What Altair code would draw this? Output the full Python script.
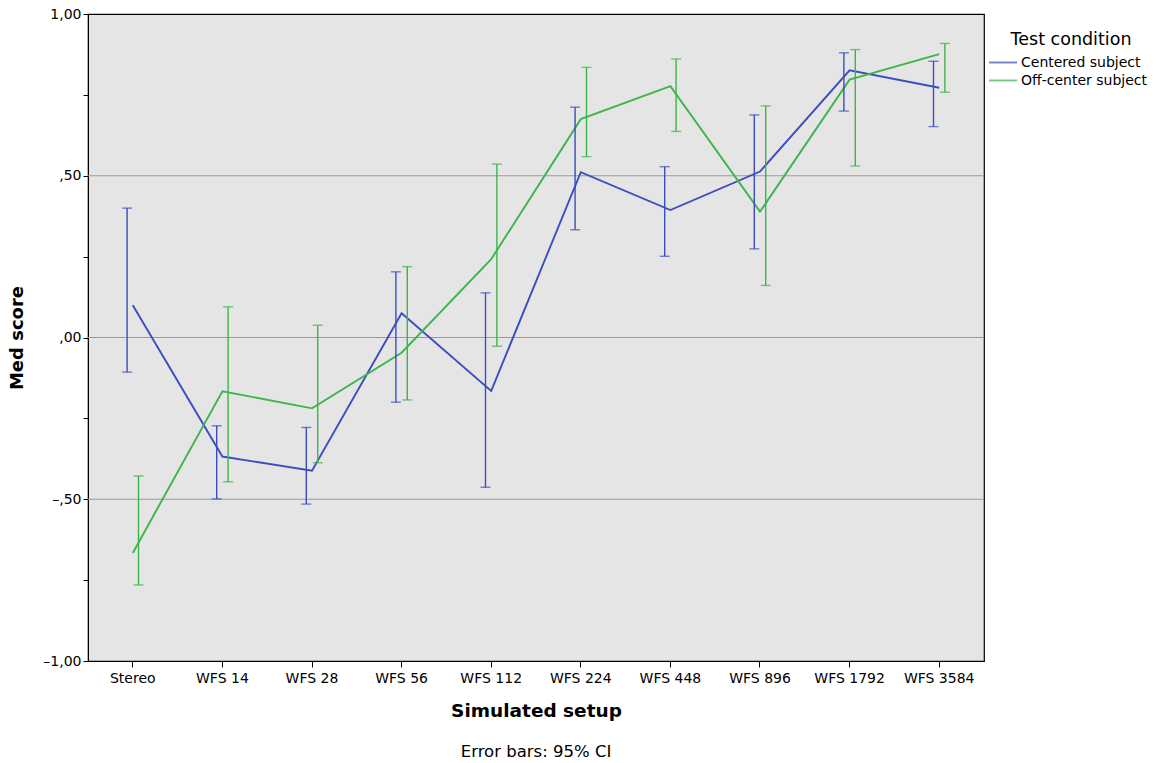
import altair as alt
import pandas as pd

setups = ["Stereo", "WFS 14", "WFS 28", "WFS 56", "WFS 112", "WFS 224",
          "WFS 448", "WFS 896", "WFS 1792", "WFS 3584"]
conditions = ["Centered subject", "Off-center subject"]

centered_mean = [0.10, -0.368, -0.412, 0.075, -0.165, 0.511, 0.394, 0.513, 0.826, 0.772]
centered_lo = [-0.107, -0.499, -0.515, -0.200, -0.463, 0.333, 0.251, 0.274, 0.700, 0.652]
centered_hi = [0.400, -0.273, -0.278, 0.203, 0.138, 0.712, 0.528, 0.688, 0.880, 0.854]

offcenter_mean = [-0.666, -0.166, -0.219, -0.047, 0.242, 0.675, 0.777, 0.389, 0.797, 0.876]
offcenter_lo = [-0.765, -0.446, -0.387, -0.193, -0.027, 0.559, 0.637, 0.161, 0.530, 0.758]
offcenter_hi = [-0.428, 0.095, 0.038, 0.219, 0.536, 0.835, 0.861, 0.716, 0.890, 0.909]

grid_values = [-0.5, 0.0, 0.5]
y_ticks = [-1.0, -0.75, -0.5, -0.25, 0.0, 0.25, 0.5, 0.75, 1.0]

colors = ["#3A4EBF", "#3CB54A"]
FONT = "DejaVu Sans"

rows = []
for i, s in enumerate(setups):
    rows.append(dict(setup=s, cond=conditions[0], mean=centered_mean[i],
                     lo=centered_lo[i], hi=centered_hi[i]))
    rows.append(dict(setup=s, cond=conditions[1], mean=offcenter_mean[i],
                     lo=offcenter_lo[i], hi=offcenter_hi[i]))
df = pd.DataFrame(rows)
grid_df = pd.DataFrame({"g": grid_values})

label_expr = ("datum.value == 1 ? '1,00' : datum.value == 0.5 ? ',50' : "
              "datum.value == 0 ? ',00' : datum.value == -0.5 ? '–,50' : "
              "datum.value == -1 ? '–1,00' : ''")

x_enc = alt.X("setup:N", sort=setups,
              scale=alt.Scale(paddingInner=0, paddingOuter=0),
              axis=alt.Axis(title="Simulated setup", labelAngle=0, tickSize=6,
                            labelPadding=4, titlePadding=16, labelFontSize=14,
                            titleFontSize=18.5, titleFontWeight="bold",
                            labelColor="black", titleColor="black",
                            domainColor="black", tickColor="black",
                            labelFont=FONT, titleFont=FONT, grid=False))
y_scale = alt.Scale(domain=[-1, 1], nice=False, zero=False)
y_axis = alt.Axis(title="Med score", values=y_ticks, labelExpr=label_expr,
                  tickSize=5, labelPadding=2, titlePadding=16,
                  labelFontSize=14, titleFontSize=18, titleFontWeight="bold",
                  labelColor="black", titleColor="black", domainColor="black",
                  tickColor="black", labelFont=FONT, titleFont=FONT, grid=False)

color_scale = alt.Scale(domain=conditions, range=colors)

grid = alt.Chart(grid_df).mark_rule(color="#9a9a9a", strokeWidth=1).encode(
    y=alt.Y("g:Q", scale=y_scale, axis=y_axis)
)

lines = alt.Chart(df).mark_line(strokeWidth=1.9).encode(
    x=x_enc,
    y=alt.Y("mean:Q", scale=y_scale, axis=y_axis),
    color=alt.Color("cond:N", scale=color_scale,
                    legend=alt.Legend(title="Test condition", orient="none",
                                      legendX=907, legendY=17,
                                      symbolType="M-2,0L2,0", symbolSize=196,
                                      symbolStrokeWidth=1.9,
                                      labelFontSize=14, titleFontSize=17.5,
                                      titleFontWeight="normal",
                                      labelFont=FONT, titleFont=FONT,
                                      labelColor="black", titleColor="black",
                                      labelOffset=10, rowPadding=3,
                                      titleAnchor="middle", titlePadding=6)),
)

layers = [grid, lines]
offsets = {conditions[0]: -5.7, conditions[1]: 5.7}
for cond, off in offsets.items():
    sub = df[df["cond"] == cond]
    rule = alt.Chart(sub).mark_rule(strokeWidth=1.4, xOffset=off).encode(
        x=alt.X("setup:N", sort=setups),
        y=alt.Y("lo:Q", scale=y_scale),
        y2="hi:Q",
        color=alt.Color("cond:N", scale=color_scale),
    )
    cap_lo = alt.Chart(sub).mark_tick(size=10, thickness=1.4, xOffset=off).encode(
        x=alt.X("setup:N", sort=setups),
        y=alt.Y("lo:Q", scale=y_scale),
        color=alt.Color("cond:N", scale=color_scale),
    )
    cap_hi = alt.Chart(sub).mark_tick(size=10, thickness=1.4, xOffset=off).encode(
        x=alt.X("setup:N", sort=setups),
        y=alt.Y("hi:Q", scale=y_scale),
        color=alt.Color("cond:N", scale=color_scale),
    )
    layers += [rule, cap_lo, cap_hi]

chart = alt.layer(*layers).properties(
    width=896, height=647,
    autosize=alt.AutoSizeParams(type="none"),
    padding={"left": 88, "top": 14, "right": 173, "bottom": 102},
    title=alt.TitleParams("Error bars: 95% CI", orient="bottom", anchor="middle",
                          frame="group", fontSize=16.5, fontWeight="normal",
                          font=FONT, color="black", offset=24),
).configure(
    background="white",
    view=alt.ViewConfig(fill="#E5E5E5", stroke="black", strokeWidth=1.2),
)

chart.save("out.html", embed_options={"renderer": "svg", "actions": False})
